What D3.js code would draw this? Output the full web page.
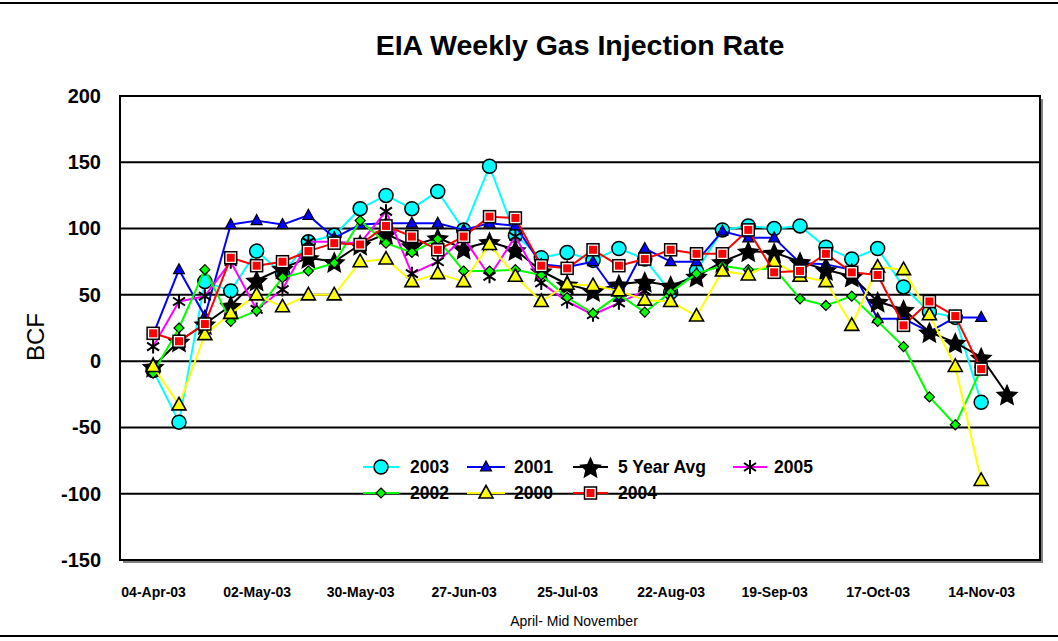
<!DOCTYPE html>
<html>
<head>
<meta charset="utf-8">
<script src="https://cdn.jsdelivr.net/npm/d3@7"></script>
<style>
  body { margin: 0; background: #fff; }
  text { font-family: "Liberation Sans", Arial, sans-serif; }
</style>
</head>
<body>
<svg id="chart" width="1058" height="641"></svg>
<script>
// weekly report dates (Fridays)
const weekDates = ["2003-04-04","2003-04-11","2003-04-18","2003-04-25","2003-05-02","2003-05-09","2003-05-16","2003-05-23",
  "2003-05-30","2003-06-06","2003-06-13","2003-06-20","2003-06-27","2003-07-04","2003-07-11","2003-07-18",
  "2003-07-25","2003-08-01","2003-08-08","2003-08-15","2003-08-22","2003-08-29","2003-09-05","2003-09-12",
  "2003-09-19","2003-09-26","2003-10-03","2003-10-10","2003-10-17","2003-10-24","2003-10-31","2003-11-07",
  "2003-11-14","2003-11-21"];
const tickDates = ["2003-04-04","2003-05-02","2003-05-30","2003-06-27","2003-07-25","2003-08-22","2003-09-19","2003-10-17","2003-11-14"];
const yTicks = [-150, -100, -50, 0, 50, 100, 150, 200];

// injection values (BCF)
const y2003 = [-7,-46,60,53,83,66,90,95,115,125,115,128,99,147,95,78,82,76,85,77,52,68,99,102,100,102,86,77,85,56,37,33,-31,null];
const y2001 = [20,69,34,103,106,103,110,93,103,104,104,104,99,104,102,73,71,75,48,85,75,75,98,93,93,74,73,69,32,32,22,33,33,null];
const avg5  = [-4,15,28,42,61,70,78,75,88,96,87,93,85,90,84,68,58,53,58,60,57,64,75,83,82,75,69,64,45,39,22,14,3,-25];
const y2005 = [11,45,49,75,39,54,90,90,89,113,66,75,93,64,94,59,45,35,44,53,null,null,null,null,null,null,null,null,null,null,null,null,null,null];
const y2002 = [-9,25,69,30,38,63,68,74,106,89,82,92,68,68,69,65,48,36,50,37,52,66,72,69,70,47,42,49,30,11,-27,-48,-6,null];
const y2000 = [-4,-33,20,36,50,41,50,50,75,77,60,66,60,88,64,45,58,57,53,46,45,34,68,65,75,64,60,27,71,69,35,-4,-90,null];
const y2004 = [21,15,28,78,72,75,83,89,88,102,94,84,94,109,108,72,70,84,72,77,84,81,81,99,67,68,81,67,65,27,45,34,-6,null];

const seriesList = [
  { name: "2003", values: y2003, color: "#00FFFF", marker: "circle" },
  { name: "2001", values: y2001, color: "#0000FF", marker: "smallTriangle" },
  { name: "5 Year Avg", values: avg5, color: "#000000", marker: "star" },
  { name: "2005", values: y2005, color: "#FF00FF", marker: "asterisk" },
  { name: "2002", values: y2002, color: "#00FF00", marker: "diamond" },
  { name: "2000", values: y2000, color: "#FFFF00", marker: "triangle" },
  { name: "2004", values: y2004, color: "#FF0000", marker: "square" }
];

const svg = d3.select("#chart");
const plot = { left: 120, right: 1040, top: 96, bottom: 560 };
const parse = d3.utcParse("%Y-%m-%d");
const dates = weekDates.map(parse);
const padDays = 8.93;

const x = d3.scaleUtc()
  .domain([d3.utcHour.offset(dates[0], -padDays * 24), d3.utcHour.offset(dates[dates.length - 1], padDays * 24)])
  .range([plot.left, plot.right]);
const y = d3.scaleLinear().domain([-150, 200]).range([plot.bottom, plot.top]);

// outer chart frame
svg.append("rect").attr("x", -5).attr("y", 3).attr("width", 1068).attr("height", 633)
  .attr("fill", "#fff").attr("stroke", "#000").attr("stroke-width", 2);

// plot area shadow + background
svg.append("rect").attr("x", plot.left + 3).attr("y", plot.top + 3)
  .attr("width", plot.right - plot.left).attr("height", plot.bottom - plot.top).attr("fill", "#808080");
svg.append("rect").attr("x", plot.left).attr("y", plot.top)
  .attr("width", plot.right - plot.left).attr("height", plot.bottom - plot.top).attr("fill", "#fff");

// gridlines
svg.append("g").selectAll("line").data(yTicks).join("line")
  .attr("x1", plot.left).attr("x2", plot.right)
  .attr("y1", d => y(d)).attr("y2", d => y(d))
  .attr("stroke", "#000").attr("stroke-width", 2);

svg.append("rect").attr("x", plot.left).attr("y", plot.top)
  .attr("width", plot.right - plot.left).attr("height", plot.bottom - plot.top)
  .attr("fill", "none").attr("stroke", "#000").attr("stroke-width", 2);

// axes
const yAxis = svg.append("g").attr("transform", `translate(${plot.left - 16},0)`)
  .call(d3.axisLeft(y).tickValues(yTicks).tickSize(0).tickFormat(d => String(d)));
yAxis.select(".domain").remove();
yAxis.selectAll("text").attr("font-size", 20).attr("font-weight", "bold")
  .attr("font-family", "Liberation Sans, Arial, sans-serif").attr("fill", "#000");

const fmt = d3.utcFormat("%d-%b-%y");
const xAxis = svg.append("g").attr("transform", `translate(0,${plot.bottom + 24})`)
  .call(d3.axisBottom(x).tickValues(tickDates.map(parse)).tickSize(0).tickFormat(fmt));
xAxis.select(".domain").remove();
xAxis.selectAll("text").attr("font-size", 14).attr("font-weight", "bold")
  .attr("font-family", "Liberation Sans, Arial, sans-serif").attr("fill", "#000");

// titles
svg.append("text").attr("x", 580).attr("y", 55).attr("text-anchor", "middle")
  .attr("font-size", 28.5).attr("font-weight", "bold").text("EIA Weekly Gas Injection Rate");
svg.append("text").attr("transform", "translate(44,337) rotate(-90)").attr("text-anchor", "middle")
  .attr("font-size", 24).text("BCF");
svg.append("text").attr("x", 574).attr("y", 626).attr("text-anchor", "middle")
  .attr("font-size", 14).text("April- Mid November");

// markers
function drawMarker(g, type, color) {
  if (type === "circle") {
    g.append("circle").attr("r", 7).attr("fill", color).attr("stroke", "#000").attr("stroke-width", 1.5);
  } else if (type === "smallTriangle") {
    g.append("path").attr("d", "M0,-6L5.5,4L-5.5,4Z").attr("fill", color).attr("stroke", "#000").attr("stroke-width", 1.2);
  } else if (type === "triangle") {
    g.append("path").attr("d", "M0,-7.5L7,5L-7,5Z").attr("fill", color).attr("stroke", "#000").attr("stroke-width", 1.6);
  } else if (type === "diamond") {
    g.append("path").attr("d", "M0,-5L5,0L0,5L-5,0Z").attr("fill", color).attr("stroke", "#000").attr("stroke-width", 1.2);
  } else if (type === "square") {
    g.append("rect").attr("x", -6).attr("y", -6).attr("width", 12).attr("height", 12)
      .attr("fill", "#fff").attr("stroke", "#000").attr("stroke-width", 1.5);
    g.append("rect").attr("x", -4).attr("y", -4).attr("width", 8).attr("height", 8).attr("fill", color);
  } else if (type === "asterisk") {
    g.append("path").attr("d", "M0,-7L0,7M-6,-4L6,4M-6,4L6,-4")
      .attr("stroke", "#000").attr("stroke-width", 2).attr("fill", "none");
  } else if (type === "star") {
    const pts = d3.range(10).map(k => {
      const r = k % 2 === 0 ? 12 : 5.6;
      const a = -Math.PI / 2 + k * Math.PI / 5;
      return [r * Math.cos(a), r * Math.sin(a) + 1.5];
    });
    g.append("path").attr("d", "M" + pts.join("L") + "Z").attr("fill", "#000");
  }
}

const line = d3.line()
  .defined(d => d.v !== null)
  .x(d => x(d.date))
  .y(d => y(d.v));

seriesList.forEach(s => {
  const pts = s.values.map((v, i) => ({ date: dates[i], v }));
  const g = svg.append("g");
  g.append("path").datum(pts).attr("d", line)
    .attr("fill", "none").attr("stroke", s.color).attr("stroke-width", 2).attr("stroke-linejoin", "round");
  pts.filter(d => d.v !== null).forEach(d => {
    const m = g.append("g").attr("transform", `translate(${x(d.date)},${y(d.v)})`);
    drawMarker(m, s.marker, s.color);
  });
});

// legend
const legendItems = [
  { name: "2003", row: 0, x0: 363, x1: 399, tx: 410 },
  { name: "2001", row: 0, x0: 467, x1: 505, tx: 514 },
  { name: "5 Year Avg", row: 0, x0: 573, x1: 608, tx: 618 },
  { name: "2005", row: 0, x0: 733, x1: 767, tx: 774 },
  { name: "2002", row: 1, x0: 363, x1: 399, tx: 410 },
  { name: "2000", row: 1, x0: 467, x1: 505, tx: 514 },
  { name: "2004", row: 1, x0: 573, x1: 608, tx: 618 }
];
const legend = svg.append("g");
legendItems.forEach(it => {
  const s = seriesList.find(d => d.name === it.name);
  const ly = it.row === 0 ? 467 : 493;
  legend.append("line").attr("x1", it.x0).attr("x2", it.x1).attr("y1", ly).attr("y2", ly)
    .attr("stroke", s.color).attr("stroke-width", 2);
  const m = legend.append("g").attr("transform", `translate(${(it.x0 + it.x1) / 2},${ly})`);
  drawMarker(m, s.marker, s.color);
  legend.append("text").attr("x", it.tx).attr("y", ly).attr("dy", "0.36em")
    .attr("font-size", 17.5).attr("font-weight", "bold").text(it.name);
});
</script>
</body>
</html>
